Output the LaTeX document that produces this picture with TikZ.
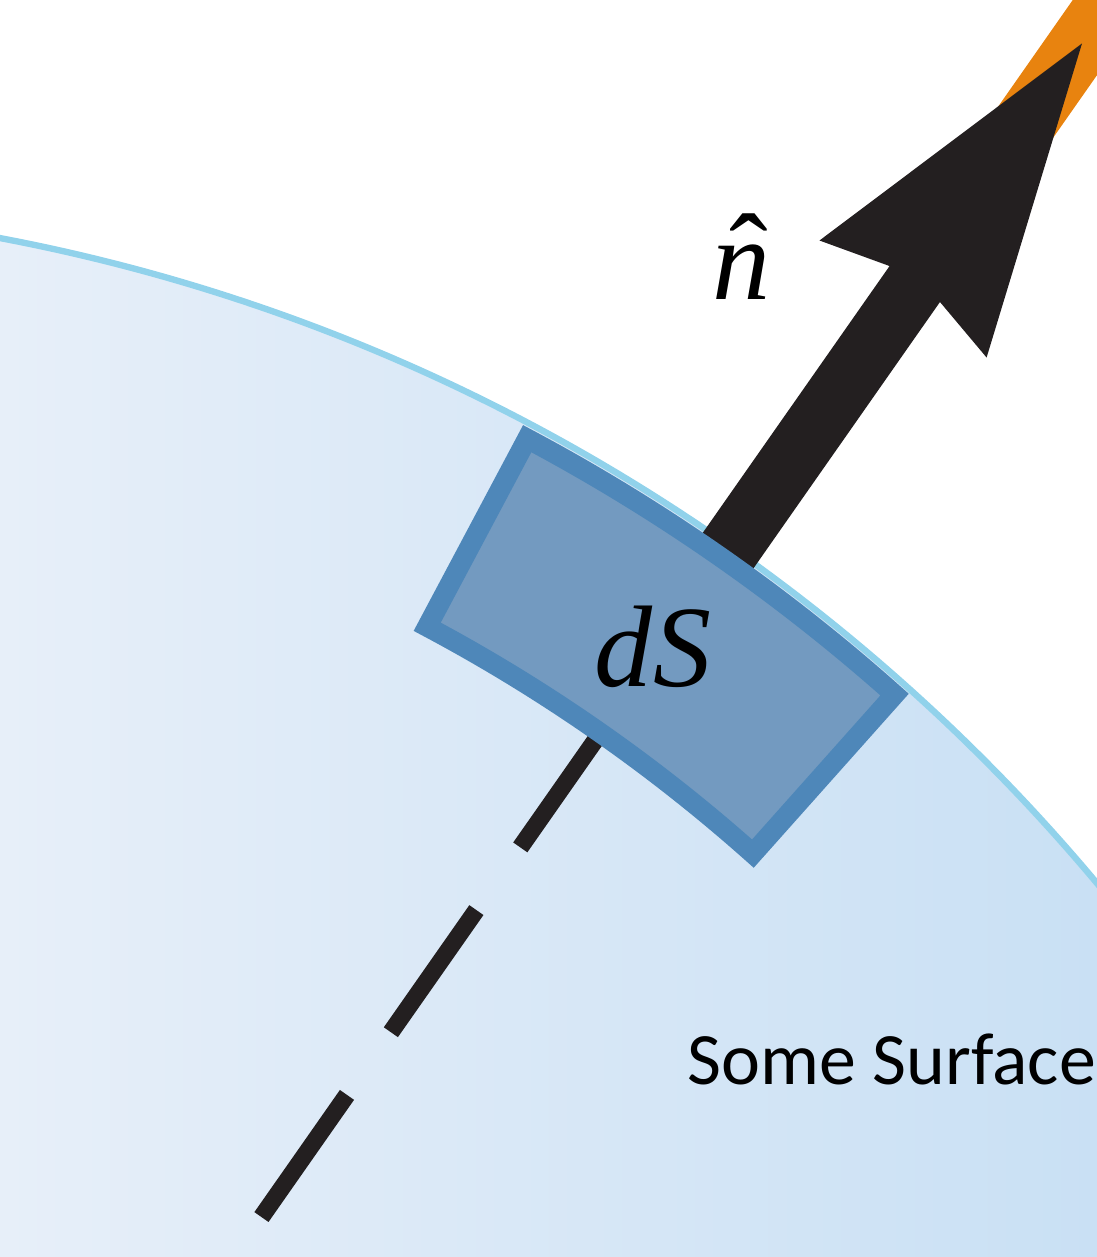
\documentclass[tikz,border=0pt]{standalone}
\usepackage{fontspec}
\newfontfamily\labelfont{Carlito}
\newfontfamily\termsfont{Liberation Serif}
\usetikzlibrary{calc}
\definecolor{surfleft}{RGB}{231,239,249}
\definecolor{surfright}{RGB}{201,224,244}
\definecolor{surfrim}{RGB}{145,210,235}
\definecolor{patchfill}{RGB}{115,154,192}
\definecolor{patchrim}{RGB}{78,135,185}
\definecolor{arrowblack}{RGB}{35,31,32}
\definecolor{tailorange}{RGB}{232,131,15}

\begin{document}
\begin{tikzpicture}[x=0.01cm,y=0.01cm,
  rim/.style={draw=surfrim,line width=1.8pt},
  dashline/.style={draw=arrowblack,line width=4.9pt,dash pattern=on 1.49cm off 0.765cm},
  shaft/.style={draw=arrowblack,line width=17.6pt},
  patch/.style={draw=patchrim,fill=patchfill,line width=5.7pt,line join=miter},
  sym/.style={font=\termsfont\itshape\fontsize{33}{36}\selectfont,inner sep=0pt,anchor=base},
  lab/.style={font=\labelfont\fontsize{21}{24}\selectfont,inner sep=0pt,anchor=base west}]
\useasboundingbox (0,0) rectangle (1097,1257);
\coordinate (o) at (-354,-839);
\begin{scope}
  \clip (o) circle[radius=1891];
  \shade[left color=surfleft,right color=surfright] (0,0) rectangle (1097,1257);
\end{scope}
\draw[rim] (o) circle[radius=1891];
\begin{scope}[shift={(o)},rotate=55]
  \coordinate (tail) at (1073,0);
  \coordinate (foot) at (1700,0);
  \coordinate (neck) at (2216,0);
  \coordinate (tip) at (2505,1);
  \draw[dashline] (tail) -- (foot);
  \draw[shaft] (foot) -- (neck);
  \draw[patch] (-6.7:1877) arc[start angle=-6.7,end angle=7.0,radius=1877]
    -- (7.0:1664) arc[start angle=7.0,end angle=-6.7,radius=1664] -- cycle;
  \draw[draw=tailorange,line width=17.9pt] (2350,2) -- (2900,2);
  \fill[arrowblack] (tip) -- (2193,103) -- (2212,32) -- (2212,-30) -- (2193,-101) -- cycle;
\end{scope}
\node[sym] (dS) at (653,570) {dS};
\node[sym] (nhat) at (742,957) {n};
\node[sym,font=\termsfont\fontsize{33}{36}\selectfont,anchor=north] (hat) at (749,1044) {ˆ};
\node[lab] (surf) at (687,172) {Some Surface};
\end{tikzpicture}
\end{document}
